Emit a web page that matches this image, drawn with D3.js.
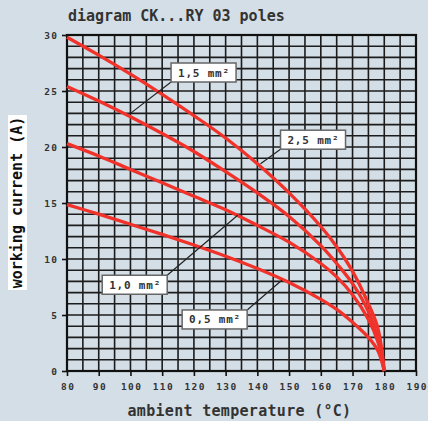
<!DOCTYPE html>
<html>
<head>
<meta charset="utf-8">
<script src="https://cdn.jsdelivr.net/npm/d3@7"></script>
<style>
  html, body { margin: 0; padding: 0; background: #d3dee6; }
  svg { display: block; }
  text { font-family: "DejaVu Sans Mono", monospace; font-weight: bold; fill: #333; }
</style>
</head>
<body>
<script>
// ---- data ----
const temps = [80, 90, 100, 110, 120, 130, 140, 150, 160, 165, 170, 175, 178, 180];
const current25 = [29.8, 28.2, 26.5, 24.7, 22.8, 20.8, 18.5, 15.9, 12.9, 11.1, 8.9, 6.0, 3.8, 0];
const current15 = [25.4, 24.1, 22.7, 21.2, 19.6, 17.8, 15.9, 13.8, 11.2, 9.6, 7.8, 5.3, 2.9, 0];
const current10 = [20.3, 19.2, 18.0, 16.8, 15.6, 14.4, 13.0, 11.5, 9.6, 8.4, 6.8, 4.6, 2.6, 0];
const current05 = [14.85, 14.0, 13.1, 12.2, 11.25, 10.25, 9.15, 7.9, 6.4, 5.5, 4.35, 3.0, 1.8, 0];
const seriesNames = ["2,5 mm²", "1,5 mm²", "1,0 mm²", "0,5 mm²"];
const xTicks = [80, 90, 100, 110, 120, 130, 140, 150, 160, 170, 180, 190];
const yTicks = [0, 5, 10, 15, 20, 25, 30];
// label boxes: name, box corner (T, I), curve point (T, I), corner where leader attaches
const labelNames = ["1,5 mm²", "2,5 mm²", "1,0 mm²", "0,5 mm²"];
const labelBoxT = [112.8, 147.3, 91.1, 116.3];
const labelBoxI = [27.5, 21.5, 8.55, 5.45];
const labelPointT = [100.0, 141.0, 133.8, 147.7];
const labelPointI = [23.0, 18.5, 13.9, 8.1];
const labelAttach = ["bottomleft", "bottomleft", "topright", "topright"];

const W = 428, H = 421;
const svg = d3.select("body").append("svg").attr("width", W).attr("height", H);
svg.append("rect").attr("width", W).attr("height", H).attr("fill", "#d3dee6");

const x = d3.scaleLinear().domain([80, 190]).range([67, 416]);
const y = d3.scaleLinear().domain([0, 30]).range([371, 35]);

// grid
const g = svg.append("g");
g.selectAll("line.v").data(d3.range(80, 191, 5)).enter().append("line")
  .attr("x1", d => x(d)).attr("x2", d => x(d)).attr("y1", y(0)).attr("y2", y(30))
  .attr("stroke", "#1c1c1c").attr("stroke-width", 1.6);
g.selectAll("line.h").data(d3.range(0, 31, 1)).enter().append("line")
  .attr("y1", d => y(d)).attr("y2", d => y(d)).attr("x1", x(80)).attr("x2", x(190))
  .attr("stroke", "#1c1c1c").attr("stroke-width", 1.6);
// border
svg.append("rect").attr("x", x(80)).attr("y", y(30)).attr("width", x(190) - x(80)).attr("height", y(0) - y(30))
  .attr("fill", "none").attr("stroke", "#111").attr("stroke-width", 2.2);

// axes
const xAxis = d3.axisBottom(x).tickValues(xTicks).tickSize(5).tickPadding(5).tickFormat(d3.format("d"));
const yAxis = d3.axisLeft(y).tickValues(yTicks).tickSize(5).tickPadding(5).tickFormat(d3.format("d"));
const gx = svg.append("g").attr("transform", `translate(0,${y(0)})`).call(xAxis);
const gy = svg.append("g").attr("transform", `translate(${x(80)},0)`).call(yAxis);
[gx, gy].forEach(a => {
  a.select(".domain").remove();
  a.selectAll(".tick line").attr("stroke", "#111").attr("stroke-width", 1.6);
  a.selectAll(".tick text").style("font-size", "9.5px").style("letter-spacing", "1.4px")
    .style("font-family", "'DejaVu Sans Mono', monospace").style("font-weight", "bold").attr("fill", "#333");
});
gx.selectAll(".tick text").attr("dx", "0.7px").attr("y", 12);
gy.selectAll(".tick text").attr("dx", "1.4px");

// curves
const allSeries = [current25, current15, current10, current05];
const line = d3.line().x(d => x(d[0])).y(d => y(d[1])).curve(d3.curveCatmullRom.alpha(0.5));
svg.append("g").selectAll("path").data(allSeries).enter().append("path")
  .attr("d", vals => line(temps.map((t, i) => [t, vals[i]])))
  .attr("fill", "none").attr("stroke", "#f0322a").attr("stroke-width", 3.3)
  .attr("stroke-linecap", "butt");

// labels
const BW = 65, BH = 19;
labelNames.forEach((name, i) => {
  const bx = x(labelBoxT[i]), by = y(labelBoxI[i]);
  const ax = labelAttach[i] === "bottomleft" ? bx : bx + BW;
  const ay = labelAttach[i] === "bottomleft" ? by + BH : by;
  svg.append("line").attr("x1", ax).attr("y1", ay)
    .attr("x2", x(labelPointT[i])).attr("y2", y(labelPointI[i]))
    .attr("stroke", "#222").attr("stroke-width", 1.2);
  svg.append("rect").attr("x", bx).attr("y", by).attr("width", BW).attr("height", BH)
    .attr("fill", "#fff").attr("stroke", "#666").attr("stroke-width", 1.5);
  svg.append("text").attr("x", bx + BW / 2 + 0.4).attr("y", by + 13.5)
    .attr("text-anchor", "middle").style("font-size", "11px").style("letter-spacing", "0.8px")
    .text(name);
});

// title
svg.append("text").attr("x", 68).attr("y", 21).style("font-size", "15px").text("diagram CK...RY 03 poles");

// x label
svg.append("text").attr("x", (x(80) + x(190)) / 2 - 2).attr("y", 416).attr("text-anchor", "middle")
  .style("font-size", "15px").style("letter-spacing", "0.3px").text("ambient temperature (°C)");

// y label with white background
svg.append("rect").attr("x", 8).attr("y", 115).attr("width", 19).attr("height", 175).attr("fill", "#fff");
svg.append("text").attr("transform", `translate(22,${202.5}) rotate(-90)`).attr("text-anchor", "middle")
  .style("font-size", "15px").style("fill", "#111").text("working current (A)");
</script>
</body>
</html>
